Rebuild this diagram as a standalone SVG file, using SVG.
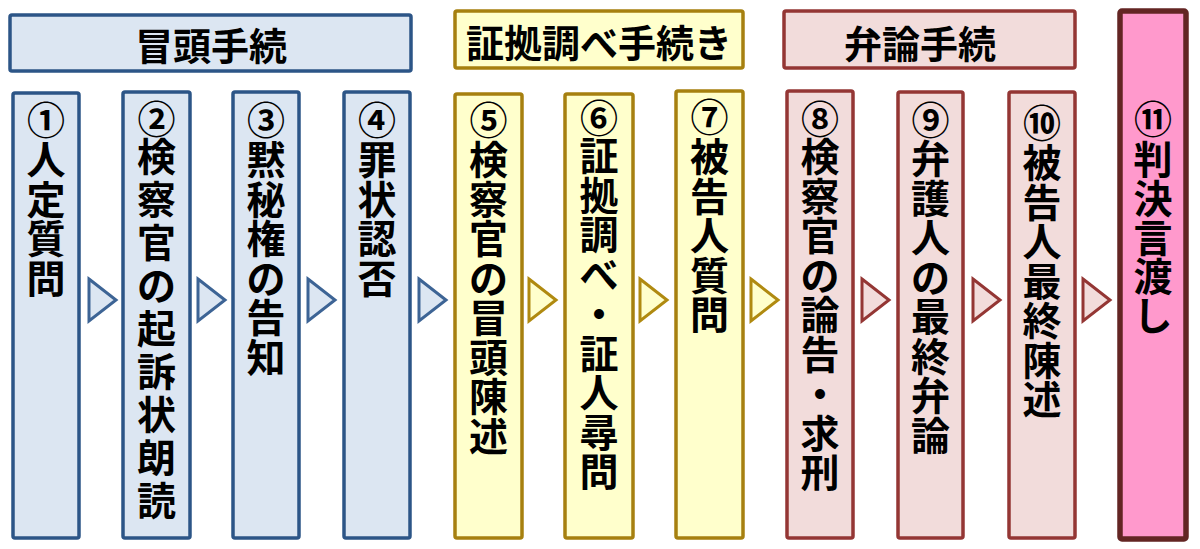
<svg xmlns="http://www.w3.org/2000/svg" width="1200" height="549" viewBox="0 0 1200 549">
<style>
text{font-family:"Noto Sans CJK JP","Noto Sans CJK SC",sans-serif;font-weight:700;fill:#000;text-anchor:middle;dominant-baseline:central}
.h{font-size:38px}
.c{font-size:39px}
.n{font-size:38px}
.blue{fill:#dce6f2;stroke:#2c5587;stroke-width:3.5}
.yel{fill:#ffffcc;stroke:#a6800f;stroke-width:3.5}
.red{fill:#f2dcdb;stroke:#943634;stroke-width:3.5}
.pink{fill:#ff99cc;stroke:#632523;stroke-width:5.5}
.ab{fill:#dce6f2;stroke:#3d6495;stroke-width:3}
.ay{fill:#ffffcc;stroke:#b08a10;stroke-width:3}
.ar{fill:#f2dcdb;stroke:#943634;stroke-width:3}
</style>
<g id="header1"><rect class="blue" x="10" y="15" width="401" height="56" rx="2"/><text class="h" x="211" y="43">冒頭手続</text></g>
<g id="header2"><rect class="yel" x="455" y="11" width="288" height="57" rx="2"/><text class="h" x="599" y="40">証拠調べ手続き</text></g>
<g id="header3"><rect class="red" x="784" y="11" width="291" height="57" rx="2"/><text class="h" x="920" y="41">弁論手続</text></g>

<g id="n1"><rect class="blue" x="13" y="93" width="66" height="445" rx="2"/>
<text class="n" x="46" y="117">①</text>
<text class="c"><tspan x="46" y="157">人</tspan><tspan x="46" y="196.5">定</tspan><tspan x="46" y="236">質</tspan><tspan x="46" y="275.5">問</tspan></text></g>

<g id="n2"><rect class="blue" x="123" y="92" width="67" height="446" rx="2"/>
<text class="n" x="156.5" y="116">②</text>
<text class="c"><tspan x="156.5" y="154">検</tspan><tspan x="156.5" y="197">察</tspan><tspan x="156.5" y="240">官</tspan><tspan x="156.5" y="283">の</tspan><tspan x="156.5" y="326">起</tspan><tspan x="156.5" y="369">訴</tspan><tspan x="156.5" y="412">状</tspan><tspan x="156.5" y="455">朗</tspan><tspan x="156.5" y="498">読</tspan></text></g>

<g id="n3"><rect class="blue" x="233" y="92" width="66" height="446" rx="2"/>
<text class="n" x="266" y="117">③</text>
<text class="c"><tspan x="266" y="157">黙</tspan><tspan x="266" y="196.5">秘</tspan><tspan x="266" y="236">権</tspan><tspan x="266" y="275.5">の</tspan><tspan x="266" y="315">告</tspan><tspan x="266" y="354.5">知</tspan></text></g>

<g id="n4"><rect class="blue" x="344" y="92" width="66" height="446" rx="2"/>
<text class="n" x="377" y="117">④</text>
<text class="c"><tspan x="377" y="157">罪</tspan><tspan x="377" y="196.5">状</tspan><tspan x="377" y="236">認</tspan><tspan x="377" y="275.5">否</tspan></text></g>

<g id="n5"><rect class="yel" x="455" y="94" width="67" height="444" rx="2"/>
<text class="n" x="488.5" y="117">⑤</text>
<text class="c"><tspan x="488.5" y="157">検</tspan><tspan x="488.5" y="196.5">察</tspan><tspan x="488.5" y="236">官</tspan><tspan x="488.5" y="275.5">の</tspan><tspan x="488.5" y="315">冒</tspan><tspan x="488.5" y="354.5">頭</tspan><tspan x="488.5" y="394">陳</tspan><tspan x="488.5" y="433.5">述</tspan></text></g>

<g id="n6"><rect class="yel" x="565" y="94" width="68" height="444" rx="2"/>
<text class="n" x="599" y="115">⑥</text>
<text class="c"><tspan x="599" y="153">証</tspan><tspan x="599" y="192.5">拠</tspan><tspan x="599" y="232">調</tspan><tspan x="599" y="271.5">べ</tspan><tspan x="599" y="311">・</tspan><tspan x="599" y="350.5">証</tspan><tspan x="599" y="390">人</tspan><tspan x="599" y="429.5">尋</tspan><tspan x="599" y="469">問</tspan></text></g>

<g id="n7"><rect class="yel" x="676" y="91" width="67" height="447" rx="2"/>
<text class="n" x="709.5" y="114">⑦</text>
<text class="c"><tspan x="709.5" y="154">被</tspan><tspan x="709.5" y="193.5">告</tspan><tspan x="709.5" y="233">人</tspan><tspan x="709.5" y="272.5">質</tspan><tspan x="709.5" y="312">問</tspan></text></g>

<g id="n8"><rect class="red" x="787" y="91" width="66" height="447" rx="2"/>
<text class="n" x="820" y="116">⑧</text>
<text class="c"><tspan x="820" y="154">検</tspan><tspan x="820" y="193.5">察</tspan><tspan x="820" y="233">官</tspan><tspan x="820" y="272.5">の</tspan><tspan x="820" y="312">論</tspan><tspan x="820" y="351.5">告</tspan><tspan x="820" y="391">・</tspan><tspan x="820" y="430.5">求</tspan><tspan x="820" y="470">刑</tspan></text></g>

<g id="n9"><rect class="red" x="898" y="92" width="65" height="446" rx="2"/>
<text class="n" x="930.5" y="117">⑨</text>
<text class="c"><tspan x="930.5" y="156">弁</tspan><tspan x="930.5" y="195.5">護</tspan><tspan x="930.5" y="235">人</tspan><tspan x="930.5" y="274.5">の</tspan><tspan x="930.5" y="314">最</tspan><tspan x="930.5" y="353.5">終</tspan><tspan x="930.5" y="393">弁</tspan><tspan x="930.5" y="432.5">論</tspan></text></g>

<g id="n10"><rect class="red" x="1009" y="92" width="66" height="446" rx="2"/>
<text class="n" x="1042" y="120">⑩</text>
<text class="c"><tspan x="1042" y="160">被</tspan><tspan x="1042" y="199.5">告</tspan><tspan x="1042" y="239">人</tspan><tspan x="1042" y="278.5">最</tspan><tspan x="1042" y="318">終</tspan><tspan x="1042" y="357.5">陳</tspan><tspan x="1042" y="397">述</tspan></text></g>

<g id="n11"><rect class="pink" x="1120" y="11" width="66" height="528" rx="2"/>
<text class="n" x="1153" y="116">⑪</text>
<text class="c"><tspan x="1153" y="157">判</tspan><tspan x="1153" y="196">決</tspan><tspan x="1153" y="235">言</tspan><tspan x="1153" y="274">渡</tspan><tspan x="1153" y="313">し</tspan></text></g>

<g id="connectors">
<polygon class="ab" points="89,279 116,300 89,321"/>
<polygon class="ab" points="198,279 225,300 198,321"/>
<polygon class="ab" points="308,279 335,300 308,321"/>
<polygon class="ab" points="419,279 446,300 419,321"/>
<polygon class="ay" points="529,279 556,300 529,321"/>
<polygon class="ay" points="640,279 667,300 640,321"/>
<polygon class="ay" points="751,279 778,300 751,321"/>
<polygon class="ar" points="862,279 889,300 862,321"/>
<polygon class="ar" points="973,279 1000,300 973,321"/>
<polygon class="ar" points="1083,279 1110,300 1083,321"/>
</g>
</svg>
